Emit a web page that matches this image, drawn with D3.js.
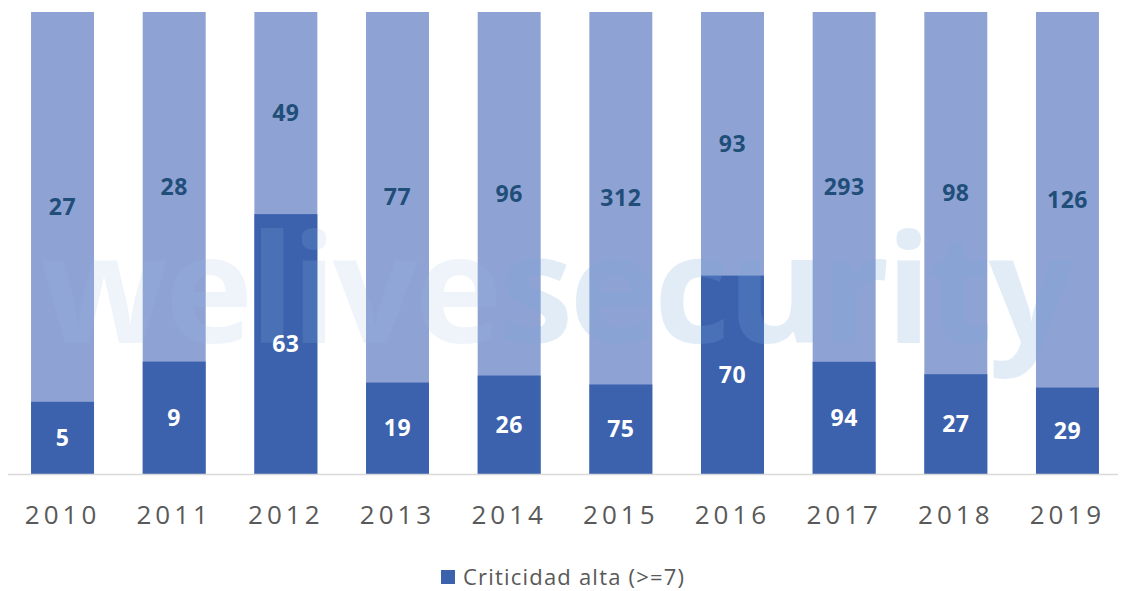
<!DOCTYPE html>
<html>
<head>
<meta charset="utf-8">
<script src="https://cdn.jsdelivr.net/npm/d3@7"></script>
<style>
  body { margin: 0; background: #fff; }
  text { font-family: "Open Sans", "DejaVu Sans", sans-serif; }
</style>
</head>
<body>
<div id="chart"></div>
<script>
// chart data
const years = ['2010', '2011', '2012', '2013', '2014', '2015', '2016', '2017', '2018', '2019'];
const highValues = [5, 9, 63, 19, 26, 75, 70, 94, 27, 29];
const otherValues = [27, 28, 49, 77, 96, 312, 93, 293, 98, 126];
const legendLabel = 'Criticidad alta (>=7)';

const width = 1121, height = 591;
const darkColor = '#3c62ae', lightColor = '#8fa2d4';

const svg = d3.select('#chart').append('svg')
    .attr('width', width)
    .attr('height', height);

const x = d3.scaleBand()
    .domain(years)
    .range([6.7, 1123.3])
    .paddingInner(0.436)
    .paddingOuter(0.218);

// 100% stacked, so share of the total
const y = d3.scaleLinear()
    .domain([0, 1])
    .range([474, 12]);

const rows = years.map((yr, i) => {
    const total = highValues[i] + otherValues[i];
    return { year: yr, high: highValues[i], other: otherValues[i], share: highValues[i] / total };
});

// bars: light (full) then dark (high share)
svg.append('g').selectAll('rect')
    .data(rows)
    .join('rect')
    .attr('x', d => x(d.year))
    .attr('width', x.bandwidth())
    .attr('y', y(1))
    .attr('height', y(0) - y(1))
    .attr('fill', lightColor);

svg.append('g').selectAll('rect')
    .data(rows)
    .join('rect')
    .attr('x', d => x(d.year))
    .attr('width', x.bandwidth())
    .attr('y', d => y(d.share))
    .attr('height', d => y(0) - y(d.share))
    .attr('fill', darkColor);

// watermark
const wm = svg.append('text')
    .attr('x', 555)
    .attr('y', 343)
    .attr('text-anchor', 'middle')
    .style('font-size', '150px')
    .style('font-weight', 'bold')
    .style('font-family', '"Open Sans", sans-serif')
    .style('letter-spacing', '-4px');
wm.append('tspan').text('welive').attr('fill', 'rgba(150,185,225,0.16)');
wm.append('tspan').text('security').attr('fill', 'rgba(120,170,220,0.22)');

// value labels
svg.append('g').selectAll('text')
    .data(rows)
    .join('text')
    .attr('x', d => x(d.year) + x.bandwidth() / 2)
    .attr('y', d => (y(1) + y(d.share)) / 2)
    .attr('dy', '0.35em')
    .attr('text-anchor', 'middle')
    .attr('fill', '#1f4e79')
    .style('font-size', '23px')
    .style('font-weight', 'bold')
    .style('letter-spacing', '0.5px')
    .text(d => d.other);

svg.append('g').selectAll('text')
    .data(rows)
    .join('text')
    .attr('x', d => x(d.year) + x.bandwidth() / 2)
    .attr('y', d => (y(0) + y(d.share)) / 2)
    .attr('dy', '0.35em')
    .attr('text-anchor', 'middle')
    .attr('fill', '#fff')
    .style('font-size', '23px')
    .style('font-weight', 'bold')
    .style('letter-spacing', '0.5px')
    .text(d => d.high);

// x axis
const xAxis = d3.axisBottom(x).tickSize(0).tickPadding(32).tickSizeOuter(0);
const xAxisG = svg.append('g')
    .attr('transform', `translate(0,${y(0)})`)
    .call(xAxis);
xAxisG.select('.domain').attr('stroke', '#d9d9d9').attr('stroke-width', 1.5)
    .attr('d', 'M8,0.5H1118');
xAxisG.selectAll('.tick text')
    .attr('fill', '#595959')
    .style('font-size', '26px')
    .style('letter-spacing', '4px')
    .style('font-family', '"Open Sans", sans-serif');

// legend
const legend = svg.append('g').attr('transform', 'translate(441,570)');
legend.append('rect')
    .attr('width', 14)
    .attr('height', 14)
    .attr('fill', darkColor);
legend.append('text')
    .attr('x', 22)
    .attr('y', 7)
    .attr('dy', '0.35em')
    .attr('fill', '#595959')
    .style('font-size', '22px')
    .style('letter-spacing', '1.2px')
    .text(legendLabel);
</script>
</body>
</html>
